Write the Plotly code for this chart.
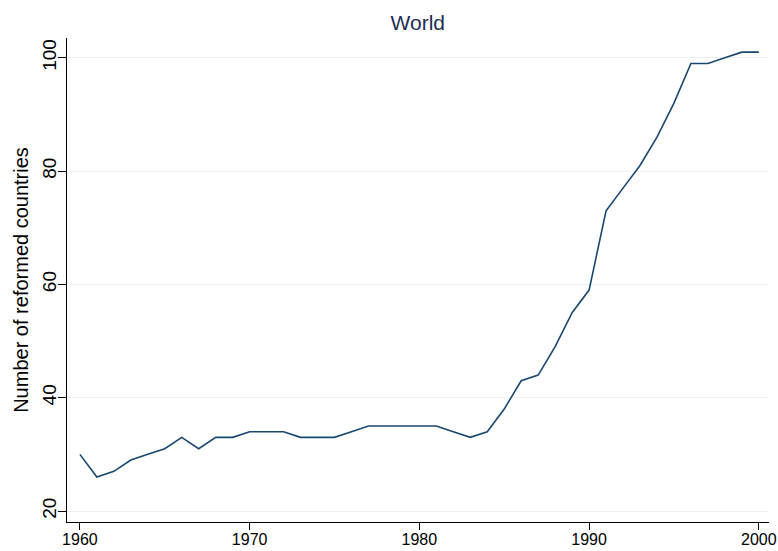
import plotly.graph_objects as go

years = list(range(1960, 2001))
reformed = [30, 26, 27, 29, 30, 31, 33, 31, 33, 33,
            34, 34, 34, 33, 33, 33, 34, 35, 35, 35,
            35, 35, 34, 33, 34, 38, 43, 44, 49, 55,
            59, 73, 77, 81, 86, 92, 99, 99, 100, 101,
            101]
x_ticks = [1960, 1970, 1980, 1990, 2000]
y_ticks = [20, 40, 60, 80, 100]

fig = go.Figure()
fig.add_trace(go.Scatter(x=years, y=reformed, mode="lines",
                         line=dict(color="#1a476f", width=1.6),
                         showlegend=False, hoverinfo="skip"))

font = "Liberation Sans, Arial, sans-serif"
W, H = 778, 551
fig.update_layout(
    width=W, height=H,
    margin=dict(l=67, r=9, t=38, b=29, autoexpand=False),
    paper_bgcolor="white", plot_bgcolor="white",
    font=dict(family=font, color="black"),
    title=dict(text="World", x=0.537, xanchor="center",
               y=1 - 23 / H, yanchor="middle",
               font=dict(family=font, size=21, color="#1e2d53")),
)
fig.update_xaxes(range=[1959.24, 2000.6], tickvals=x_ticks,
                 automargin=False,
                 showgrid=False, zeroline=False,
                 showline=True, linecolor="black", linewidth=1,
                 ticks="outside", ticklen=7, tickcolor="black",
                 ticklabelstandoff=-4, ticklabeloverflow="allow",
                 tickfont=dict(size=16, family=font))
fig.update_yaxes(range=[18.06, 103.5], tickvals=y_ticks,
                 automargin=False,
                 showgrid=True, gridcolor="#eaf2f3", gridwidth=1,
                 zeroline=False,
                 showline=True, linecolor="black", linewidth=1,
                 ticks="outside", ticklen=8, tickcolor="black",
                 tickangle=-90, ticklabelstandoff=-6,
                 ticklabeloverflow="allow",
                 tickfont=dict(size=19, family=font),
                 title=dict(text="Number of reformed countries",
                            font=dict(size=20, family=font), standoff=5))

fig.write_html(
    "out.html",
    config={"displayModeBar": False},
    post_script="document.body.style.margin='0';"
                "document.body.style.overflow='hidden';",
)
